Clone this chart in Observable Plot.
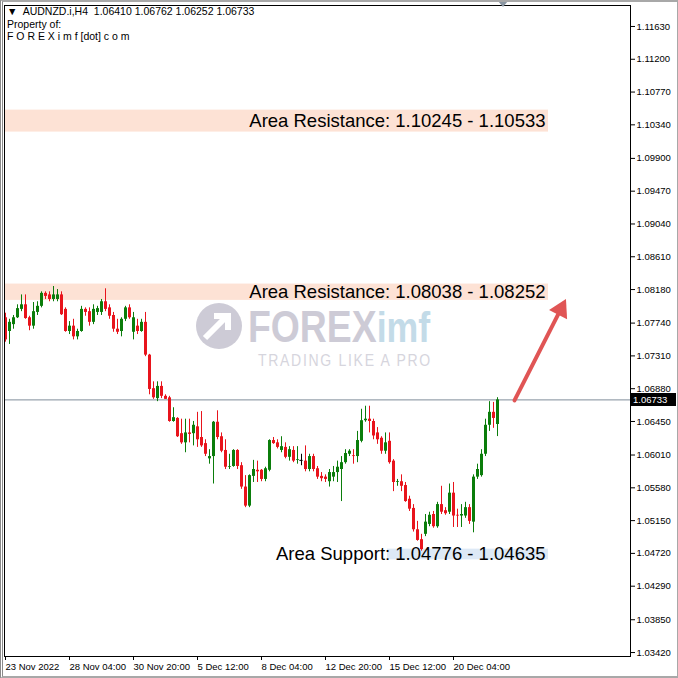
<!DOCTYPE html>
<html><head><meta charset="utf-8">
<script src="https://cdn.jsdelivr.net/npm/d3@7"></script>
<script src="https://cdn.jsdelivr.net/npm/@observablehq/plot@0.6"></script>
<style>
html,body{margin:0;padding:0;background:#fff;}
#wrap{position:relative;width:678px;height:678px;overflow:hidden;font-family:"Liberation Sans",Arial,sans-serif;}
#wrap svg{position:absolute;left:0;top:0;}
.ov{position:absolute;white-space:pre;color:#000;font-size:10.5px;line-height:12.5px;}
#winborder{position:absolute;left:0;top:0;width:674px;height:674px;border:2px solid #a8a8a8;border-left:3px double #8a8a8a;pointer-events:none;box-sizing:content-box;}
#shift{position:absolute;left:498px;top:1px;width:0;height:0;border-left:5px solid transparent;border-right:5px solid transparent;border-top:6px solid #8a96a2;}
#pricebox{position:absolute;left:631px;width:45px;height:13px;background:#000;color:#fff;font-size:9.5px;line-height:13px;text-align:left;padding-left:2px;box-sizing:border-box;}
</style></head>
<body><div id="wrap"></div>
<script>
// ---- data ----
const opens=[1.0781,1.0763,1.0772,1.0781,1.0792,1.0798,1.0781,1.0770,1.0788,1.0796,1.0813,1.0811,1.0805,1.0805,1.0811,1.0792,1.0763,1.0770,1.0756,1.0763,1.0792,1.0789,1.0775,1.0788,1.0788,1.0802,1.0794,1.0784,1.0766,1.0763,1.0779,1.0794,1.0762,1.0770,1.0763,1.0775,1.0732,1.0688,1.0675,1.0691,1.0678,1.0676,1.0645,1.0649,1.0629,1.0617,1.0630,1.0629,1.0638,1.0624,1.0616,1.0596,1.0599,1.0644,1.0625,1.0607,1.0585,1.0586,1.0607,1.0587,1.0559,1.0534,1.0573,1.0581,1.0581,1.0569,1.0581,1.0620,1.0617,1.0607,1.0611,1.0598,1.0607,1.0594,1.0594,1.0593,1.0582,1.0599,1.0583,1.0573,1.0572,1.0566,1.0572,1.0578,1.0582,1.0591,1.0602,1.0600,1.0599,1.0619,1.0646,1.0648,1.0645,1.0630,1.0623,1.0606,1.0619,1.0593,1.0565,1.0566,1.0561,1.0543,1.0531,1.0503,1.0490,1.0497,1.0510,1.0523,1.0507,1.0536,1.0528,1.0526,1.0551,1.0522,1.0521,1.0521,1.0532,1.0513,1.0572,1.0574,1.0602,1.0640,1.0657,1.06410];
const highs=[1.0787,1.0779,1.0784,1.0798,1.0811,1.0811,1.0783,1.0801,1.0802,1.0815,1.0815,1.0815,1.0822,1.0818,1.0815,1.0794,1.0776,1.0779,1.0766,1.0796,1.0794,1.0794,1.0798,1.0796,1.0805,1.0819,1.0798,1.0788,1.0779,1.0781,1.0796,1.0798,1.0788,1.0779,1.0779,1.0788,1.0733,1.0697,1.0697,1.0697,1.0680,1.0678,1.0663,1.0650,1.0648,1.0648,1.0648,1.0645,1.0657,1.0658,1.0621,1.0608,1.0645,1.0659,1.0630,1.0621,1.0602,1.0608,1.0608,1.0591,1.0574,1.0575,1.0594,1.0593,1.0582,1.0585,1.0621,1.0624,1.0621,1.0625,1.0617,1.0612,1.0612,1.0612,1.0602,1.0613,1.0602,1.0602,1.0586,1.0578,1.0575,1.0582,1.0586,1.0593,1.0599,1.0608,1.0608,1.0608,1.0632,1.0661,1.0665,1.0665,1.0648,1.0637,1.0625,1.0630,1.0630,1.0595,1.0569,1.0575,1.0565,1.0547,1.0536,1.0514,1.0497,1.0523,1.0526,1.0527,1.0539,1.0560,1.0532,1.0563,1.0565,1.0530,1.0536,1.0539,1.0536,1.0575,1.0589,1.0608,1.0648,1.0671,1.0670,1.06762];
const lows=[1.0749,1.0746,1.0766,1.0780,1.0789,1.0779,1.0764,1.0766,1.0784,1.0794,1.0805,1.0802,1.0802,1.0802,1.0784,1.0762,1.0759,1.0752,1.0752,1.0762,1.0783,1.0770,1.0772,1.0784,1.0784,1.0789,1.0779,1.0762,1.0759,1.0756,1.0776,1.0779,1.0752,1.0759,1.0762,1.0730,1.0680,1.0674,1.0671,1.0675,1.0674,1.0644,1.0644,1.0624,1.0615,1.0604,1.0617,1.0613,1.0611,1.0611,1.0599,1.0589,1.0563,1.0621,1.0604,1.0582,1.0582,1.0585,1.0582,1.0556,1.0532,1.0532,1.0565,1.0565,1.0566,1.0566,1.0579,1.0615,1.0609,1.0604,1.0596,1.0593,1.0591,1.0589,1.0587,1.0579,1.0579,1.0579,1.0569,1.0566,1.0565,1.0559,1.0566,1.0565,1.0540,1.0589,1.0599,1.0589,1.0591,1.0617,1.0644,1.0630,1.0621,1.0615,1.0602,1.0602,1.0589,1.0553,1.0560,1.0553,1.0539,1.0527,1.0500,1.0488,1.0475,1.0494,1.0507,1.0505,1.0505,1.0523,1.0522,1.0523,1.0506,1.0506,1.0506,1.0518,1.0510,1.0499,1.0569,1.0572,1.0599,1.0632,1.0636,1.06252];
const closes=[1.0752,1.0775,1.0781,1.0793,1.0798,1.0780,1.0770,1.0789,1.0796,1.0813,1.0809,1.0805,1.0811,1.0811,1.0785,1.0763,1.0770,1.0756,1.0763,1.0792,1.0788,1.0775,1.0792,1.0793,1.0802,1.0792,1.0783,1.0766,1.0762,1.0779,1.0794,1.0781,1.0781,1.0763,1.0775,1.0732,1.0687,1.0676,1.0691,1.0678,1.0674,1.0645,1.0650,1.0625,1.0617,1.0630,1.0628,1.0640,1.0621,1.0613,1.0602,1.0599,1.0644,1.0624,1.0606,1.0585,1.0586,1.0607,1.0586,1.0559,1.0534,1.0574,1.0582,1.0579,1.0569,1.0583,1.0620,1.0616,1.0611,1.0612,1.0598,1.0608,1.0593,1.0595,1.0594,1.0582,1.0599,1.0582,1.0572,1.0570,1.0569,1.0578,1.0578,1.0585,1.0591,1.0603,1.0606,1.0599,1.0620,1.0646,1.0648,1.0645,1.0626,1.0621,1.0606,1.0617,1.0591,1.0565,1.0566,1.0560,1.0540,1.0530,1.0503,1.0489,1.0477,1.0513,1.0522,1.0507,1.0536,1.0526,1.0524,1.0551,1.0521,1.0521,1.0523,1.0532,1.0514,1.0572,1.0582,1.0602,1.0640,1.0657,1.0649,1.06733];

const xTickIdx=[0,16,32,48,64,80,96,112];
const xTickLabels=["23 Nov 2022","28 Nov 04:00","30 Nov 20:00","5 Dec 12:00","8 Dec 04:00","12 Dec 20:00","15 Dec 12:00","20 Dec 04:00"];
const yTicks=[1.11630,1.11200,1.10770,1.10340,1.09900,1.09470,1.09040,1.08610,1.08180,1.07740,1.07310,1.06880,1.06450,1.06010,1.05580,1.05150,1.04720,1.04290,1.03850,1.03420];

const zoneLows=[1.10245,1.08038,1.04635];
const zoneHighs=[1.10533,1.08252,1.04776];
const zoneLabels=["Area Resistance: 1.10245 - 1.10533","Area Resistance: 1.08038 - 1.08252","Area Support: 1.04776 - 1.04635"];
const zoneColors=["#fde2d5","#fde2d5","#dde9f6"];
const zoneStarts=[-0.25,-0.25,95.5];
const zoneEnd=135.75;

const arrowFrom=[127.25,1.06726];
const arrowTo=[138.8,1.0792];
const arrowHead=[138.8,1.0792];

const symbolName="AUDNZD.i,H4";

// ---- build ----
const candles=opens.map((o,i)=>({i,open:o,high:highs[i],low:lows[i],close:closes[i]}));
const colorOf=d=>d.close>d.open?"#0b7d0b":d.close<d.open?"#e8141c":"#000000";
const dojis=candles.filter(d=>d.close===d.open);
const zones=zoneLows.map((lo,k)=>({lo,hi:zoneHighs[k],mid:(lo+zoneHighs[k])/2,label:zoneLabels[k],color:zoneColors[k],x1:zoneStarts[k],x2:zoneEnd}));
const last=candles[candles.length-1];

const chart=Plot.plot({
  width:678,height:678,
  marginTop:5,marginRight:48,marginBottom:22,marginLeft:4,
  style:{fontFamily:"'Liberation Sans',Arial,sans-serif",fontSize:"9.5px",color:"#000",background:"transparent"},
  x:{domain:[-0.25,156.25]},
  y:{domain:[1.03368,1.11905]},
  marks:[
    Plot.rect(zones,{x1:"x1",x2:"x2",y1:"lo",y2:"hi",fill:"color"}),
    Plot.text(zones,{x:"x2",y:"mid",text:"label",textAnchor:"end",dx:-3,dy:0,fontSize:18.5,fill:"#000"}),
    Plot.ruleY([last.close],{stroke:"#7f8c99",strokeWidth:1}),
    Plot.ruleX(candles,{x:"i",y1:"low",y2:"high",stroke:colorOf,strokeWidth:1}),
    Plot.ruleX(candles,{x:"i",y1:"open",y2:"close",stroke:colorOf,strokeWidth:3}),
    Plot.ruleY(dojis,{y:"open",x1:d=>d.i-0.4,x2:d=>d.i+0.4,stroke:"#000"}),
    Plot.arrow([{x1:arrowFrom[0],y1:arrowFrom[1],x2:arrowTo[0],y2:arrowTo[1]}],{x1:"x1",y1:"y1",x2:"x2",y2:"y2",stroke:"#e05555",strokeWidth:4,headLength:0}),
    Plot.dot([{x:arrowHead[0],y:arrowHead[1]}],{x:"x",y:"y",symbol:"triangle",r:7.5,fill:"#e05555",stroke:"none",rotate:26.8}),
    Plot.frame({stroke:"#000"}),
    Plot.axisY({anchor:"right",ticks:yTicks,tickFormat:d=>d.toFixed(5),tickSize:4,tickPadding:2,label:null,fontSize:9.5}),
    Plot.axisX({anchor:"bottom",ticks:xTickIdx,tickFormat:d=>xTickLabels[xTickIdx.indexOf(d)],tickSize:4,tickPadding:3,textAnchor:"start",label:null,fontSize:9.5})
  ]
});
const wrap=document.getElementById("wrap");
wrap.appendChild(chart);

// watermark
const wm=document.createElementNS("http://www.w3.org/2000/svg","svg");
wm.setAttribute("width","678");wm.setAttribute("height","678");
wm.style.pointerEvents="none";
wm.innerHTML=`
<circle cx="219" cy="326" r="23" fill="#cdcbd6"/>
<path d="M205 338 L226 317 M214 316 L228 316 L228 330" stroke="#fff" stroke-width="6" fill="none"/>
<g transform="translate(248,0) scale(0.83,1)">
<text x="0" y="342" font-family="'Liberation Sans',Arial" font-weight="bold" font-size="45"><tspan fill="#cdcbd6">FOREX</tspan><tspan fill="#c3dbe8" font-size="43">imf</tspan></text>
</g>
<g transform="translate(258,0) scale(0.85,1)">
<text x="0" y="366.5" font-family="'Liberation Sans',Arial" font-size="16.5" fill="#d6d5dd" letter-spacing="2">TRADING LIKE A PRO</text>
</g>`;
wrap.appendChild(wm);

// header
const hdr=document.createElement("div");
hdr.className="ov";hdr.style.left="7px";hdr.style.top="5px";
hdr.textContent="\u25BC  "+symbolName+"  "+[last.open,last.high,last.low,last.close].map(v=>v.toFixed(5)).join(" ")+"\nProperty of:\nF O R E X i m f [dot] c o m";
wrap.appendChild(hdr);

// current price box
const pb=document.createElement("div");
pb.id="pricebox";
pb.style.top=(chart.scale("y").apply(last.close)-6.5)+"px";
pb.textContent=last.close.toFixed(5);
wrap.appendChild(pb);

const sh=document.createElement("div");sh.id="shift";wrap.appendChild(sh);
const wb=document.createElement("div");wb.id="winborder";wrap.appendChild(wb);
</script>
</body></html>
